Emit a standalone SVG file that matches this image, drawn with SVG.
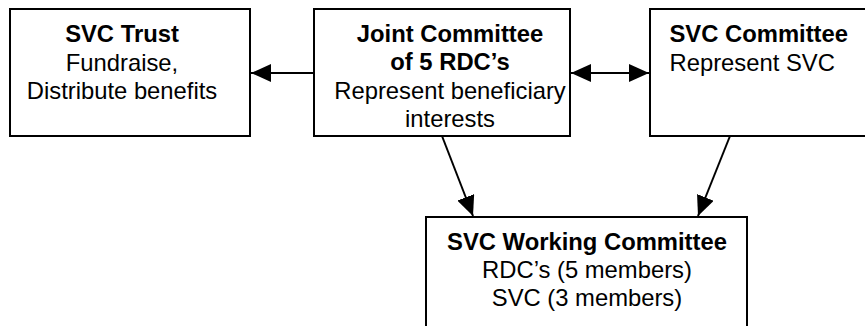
<svg xmlns="http://www.w3.org/2000/svg" width="865" height="326" viewBox="0 0 865 326">
  <style>
    .box { fill: #ffffff; stroke: #000000; stroke-width: 2; }
    .t { font-family: "Liberation Sans", Arial, sans-serif; font-size: 23.8px; fill: #000000; }
    .b { font-weight: bold; }
    .c { text-anchor: middle; }
    .link { stroke: #000000; stroke-width: 2; fill: none; }
  </style>
  <defs>
    <marker id="head" markerUnits="userSpaceOnUse" markerWidth="20" markerHeight="18" refX="20" refY="9" orient="auto-start-reverse" viewBox="0 0 20 18">
      <path d="M0,0 L20,9 L0,18 Z" fill="#000000"/>
    </marker>
  </defs>

  <rect width="865" height="326" fill="#ffffff"/>

  <g id="svc-trust">
    <rect class="box" x="10" y="9" width="240" height="127"/>
    <text class="t b c" x="122" y="42">SVC Trust</text>
    <text class="t c" x="122" y="71">Fundraise,</text>
    <text class="t c" x="122" y="99">Distribute benefits</text>
  </g>

  <g id="joint-committee">
    <rect class="box" x="314" y="9" width="256" height="127"/>
    <text class="t b c" x="450" y="42">Joint Committee</text>
    <text class="t b c" x="450" y="70">of 5 RDC’s</text>
    <text class="t c" x="450" y="98.5">Represent beneficiary</text>
    <text class="t c" x="450" y="127">interests</text>
  </g>

  <g id="svc-committee">
    <rect class="box" x="650" y="9" width="240" height="127"/>
    <text class="t b" x="669.5" y="42">SVC Committee</text>
    <text class="t" x="669.5" y="70.5">Represent SVC</text>
  </g>

  <g id="working-committee">
    <rect class="box" x="426" y="217" width="321" height="130"/>
    <text class="t b c" x="587" y="249.5">SVC Working Committee</text>
    <text class="t c" x="587" y="278">RDC’s (5 members)</text>
    <text class="t c" x="587" y="306">SVC (3 members)</text>
  </g>

  <g id="connectors">
    <line class="link" x1="313" y1="73" x2="251" y2="73" marker-end="url(#head)"/>
    <line class="link" x1="571" y1="73" x2="649" y2="73" marker-start="url(#head)" marker-end="url(#head)"/>
    <line class="link" x1="442" y1="136" x2="473" y2="216" marker-end="url(#head)"/>
    <line class="link" x1="730" y1="136" x2="698" y2="216" marker-end="url(#head)"/>
  </g>
</svg>
